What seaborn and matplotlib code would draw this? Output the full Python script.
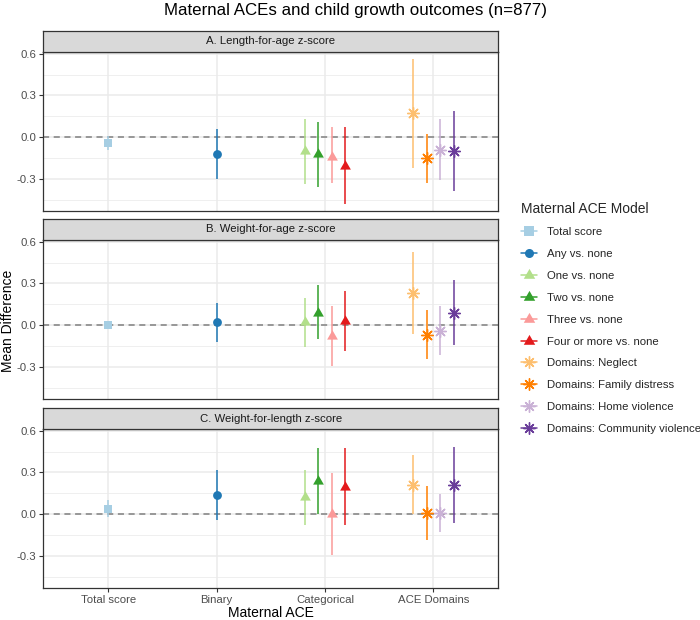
import numpy as np
import pandas as pd
import matplotlib
matplotlib.use("Agg")
import matplotlib.pyplot as plt
from matplotlib.lines import Line2D
import seaborn as sns

# ---------------- data ----------------
outcomes = ["A. Length-for-age z-score",
            "B. Weight-for-age z-score",
            "C. Weight-for-length z-score"]
exposure_types = ["Total score", "Binary", "Categorical", "ACE Domains"]
models = ["Total score", "Any vs. none", "One vs. none", "Two vs. none",
          "Three vs. none", "Four or more vs. none", "Domains: Neglect",
          "Domains: Family distress", "Domains: Home violence",
          "Domains: Community violence"]
model_type = ["Total score", "Binary", "Categorical", "Categorical",
              "Categorical", "Categorical", "ACE Domains", "ACE Domains",
              "ACE Domains", "ACE Domains"]

est_laz = [-0.04, -0.12, -0.10, -0.12, -0.14, -0.21, 0.17, -0.15, -0.09, -0.10]
lo_laz = [-0.09, -0.30, -0.34, -0.36, -0.33, -0.48, -0.22, -0.33, -0.31, -0.39]
hi_laz = [0.01, 0.06, 0.13, 0.11, 0.07, 0.07, 0.56, 0.02, 0.13, 0.19]

est_waz = [0.00, 0.02, 0.02, 0.09, -0.08, 0.03, 0.23, -0.07, -0.04, 0.09]
lo_waz = [-0.02, -0.12, -0.155, -0.10, -0.295, -0.186, -0.064, -0.245, -0.217, -0.145]
hi_waz = [0.02, 0.16, 0.198, 0.288, 0.136, 0.245, 0.526, 0.107, 0.14, 0.326]

est_wlz = [0.04, 0.14, 0.12, 0.235, 0.00, 0.197, 0.207, 0.007, 0.007, 0.207]
lo_wlz = [-0.02, -0.04, -0.079, 0.003, -0.298, -0.076, 0.002, -0.188, -0.131, -0.067]
hi_wlz = [0.10, 0.314, 0.314, 0.474, 0.293, 0.474, 0.426, 0.202, 0.145, 0.481]

colors = ["#A6CEE3", "#1F78B4", "#B2DF8A", "#33A02C", "#FB9A99",
          "#E31A1C", "#FDBF6F", "#FF7F00", "#CAB2D6", "#6A3D9A"]

# ---------------- build table ----------------
tri = [(0, 1), (-0.866, -0.5), (0.866, -0.5)]
star = (8, 2, 0)
marker_of = {"Total score": "s", "Any vs. none": "o"}
for m in models[2:6]:
    marker_of[m] = tri
for m in models[6:]:
    marker_of[m] = star
size_of = {"Total score": 36, "Any vs. none": 40}
for m in models[2:6]:
    size_of[m] = 80
for m in models[6:]:
    size_of[m] = 72
palette = dict(zip(models, colors))

dodge_w = 0.5
rows = []
for outcome, est, lo, hi in zip(outcomes,
                                [est_laz, est_waz, est_wlz],
                                [lo_laz, lo_waz, lo_wlz],
                                [hi_laz, hi_waz, hi_wlz]):
    for t_i, t in enumerate(exposure_types):
        idx = [i for i, mt in enumerate(model_type) if mt == t]
        n = len(idx)
        for j, i in enumerate(idx):
            off = -dodge_w / 2 + dodge_w / (2 * n) + j * dodge_w / n
            rows.append(dict(outcome=outcome, model=models[i], type=t,
                             x=t_i + off, est=est[i], lo=lo[i], hi=hi[i]))
df = pd.DataFrame(rows)

# ---------------- style ----------------
sns.set_style("white")
plt.rcParams["font.family"] = ["Liberation Sans", "DejaVu Sans"]

W, H = 700, 620
fig = plt.figure(figsize=(W / 100, H / 100), dpi=100)


def fr(left, top, width, height):
    return [left / W, 1 - (top + height) / H, width / W, height / H]


p_left, p_w = 43.3, 455.0
panel_tops = [52, 240, 429]
p_h = 159
s_h = 21
small = 8.2

rng = df["hi"].max() - df["lo"].min()
ylim = (df["lo"].min() - 0.05 * rng, df["hi"].max() + 0.05 * rng)
border = "#333333"

for k, outcome in enumerate(outcomes):
    top = panel_tops[k]
    ax = fig.add_axes(fr(p_left, top, p_w, p_h))
    sax = fig.add_axes(fr(p_left, top - s_h, p_w, s_h))
    sub = df[df["outcome"] == outcome]

    ax.set_xlim(-0.6, 3.6)
    ax.set_ylim(*ylim)
    ax.set_facecolor("white")
    # grid
    for yv in [-0.45, -0.15, 0.15, 0.45]:
        ax.axhline(yv, color="#EBEBEB", lw=0.55, zorder=0)
    for yv in [-0.3, 0.0, 0.3, 0.6]:
        ax.axhline(yv, color="#EBEBEB", lw=1.1, zorder=0)
    for xv in range(len(exposure_types)):
        ax.axvline(xv, color="#EBEBEB", lw=1.1, zorder=0)
    ax.axhline(0, color="#808080", lw=1.1, ls=(0, (4, 3)), zorder=1)

    # error bars
    for _, r in sub.iterrows():
        ax.vlines(r["x"], r["lo"], r["hi"], color=palette[r["model"]],
                  lw=1.1, zorder=2)
    filled = sub[~sub["model"].str.startswith("Domains")]
    for m in filled["model"].unique():
        d = filled[filled["model"] == m]
        sns.scatterplot(data=d, x="x", y="est", color=palette[m],
                        marker=marker_of[m], s=size_of[m], linewidth=0,
                        ax=ax, legend=False, zorder=3)
    doms = sub[sub["model"].str.startswith("Domains")]
    for m in doms["model"].unique():
        d = doms[doms["model"] == m]
        sns.scatterplot(data=d, x="x", y="est", color=palette[m],
                        marker=star, s=size_of[m], linewidth=1.0,
                        ax=ax, legend=False, zorder=3)

    ax.set_xlabel("")
    ax.set_ylabel("")
    ax.set_yticks([-0.3, 0.0, 0.3, 0.6])
    ax.set_yticklabels(["-0.3", "0.0", "0.3", "0.6"])
    ax.tick_params(axis="y", length=3, width=0.8, color=border,
                   labelsize=small, labelcolor="#4D4D4D", pad=2, left=True)
    ax.set_xticks(range(len(exposure_types)))
    if k == 2:
        ax.set_xticklabels(exposure_types)
        ax.tick_params(axis="x", length=3, width=0.8, color=border,
                       labelsize=small, labelcolor="#4D4D4D", pad=2,
                       bottom=True)
    else:
        ax.set_xticklabels([])
        ax.tick_params(axis="x", length=0)
    for sp in ax.spines.values():
        sp.set_color(border)
        sp.set_linewidth(0.9)
        sp.set_visible(True)

    sax.set_facecolor("#D9D9D9")
    sax.set_xticks([])
    sax.set_yticks([])
    for sp in sax.spines.values():
        sp.set_color(border)
        sp.set_linewidth(0.9)
        sp.set_visible(True)
    sax.text(0.5, 0.5, outcome, ha="center", va="center", fontsize=small,
             color="#1A1A1A", transform=sax.transAxes)

fig.text(355 / W, 1 - 10 / H, "Maternal ACEs and child growth outcomes (n=877)",
         ha="center", va="center", fontsize=12.2, color="black")
fig.text(8 / W, 1 - 321 / H, "Mean Difference", rotation=90,
         ha="center", va="center", fontsize=10, color="black")
fig.text(270.8 / W, 1 - 613 / H, "Maternal ACE", ha="center", va="center",
         fontsize=10, color="black")

handles = []
for m in models:
    ms = {"Total score": 6.5, "Any vs. none": 6.5}.get(m, 8.6 if m.startswith("Domains") else 9.5)
    mk = marker_of[m]
    if m.startswith("Domains"):
        h = Line2D([0], [0], color=palette[m], lw=1.1, marker=star,
                   markersize=ms, markeredgewidth=1.0,
                   markeredgecolor=palette[m])
    else:
        h = Line2D([0], [0], color=palette[m], lw=1.1, marker=mk,
                   markersize=ms, markeredgewidth=0,
                   markerfacecolor=palette[m])
    handles.append(h)

leg = fig.legend(handles, models, title="Maternal ACE Model",
                 loc="upper left", bbox_to_anchor=(516 / W, 1 - 197 / H),
                 frameon=False, fontsize=small, title_fontsize=10,
                 handlelength=1.4, handletextpad=0.9, labelspacing=1.04,
                 borderaxespad=0)
leg._legend_box.align = "left"
leg._legend_box._children[1].sep = 9

fig.savefig("out.png", dpi=100)
